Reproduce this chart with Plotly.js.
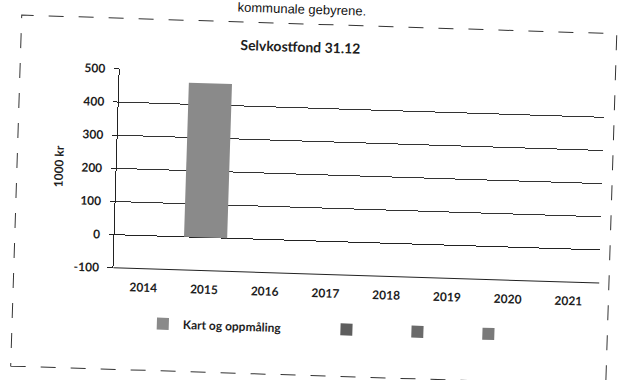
<!DOCTYPE html>
<html>
<head>
<meta charset="utf-8">
<script src="https://cdn.plot.ly/plotly-3.0.1.min.js"></script>
<style>
html,body{margin:0;padding:0;background:#fff;overflow:hidden;}
#wrap{width:623px;height:380px;transform:rotate(1.8deg);transform-origin:311.5px 190px;}
#chart{width:623px;height:380px;}
</style>
</head>
<body>
<div id="wrap"><div id="chart"></div></div>
<script>
const years = ['2014','2015','2016','2017','2018','2019','2020','2021'];
const kartOgOppmaling = [null, 465, null, null, null, null, null, null];
const serie2 = [null, null, null, null, null, null, null, null];
const serie3 = [null, null, null, null, null, null, null, null];
const serie4 = [null, null, null, null, null, null, null, null];
const seriesNames = ['Kart og oppmåling', ' ', ' ', ' '];
const yTickVals = [-100, 0, 100, 200, 300, 400, 500];
const yTickText = ['-100', '0', '100', '200', '300', '400', '500'];
const chartTitle = 'Selvkostfond 31.12';
const yTitle = '1000 kr';
const pageText = 'kommunale gebyrene.';

const font = 'Lato, "Open Sans", sans-serif';
const tf = {family:font, size:12, color:'#1e1e1e', weight:'bold'};
const traces = [
  {type:'bar', x:years, y:kartOgOppmaling, name:seriesNames[0], marker:{color:'#8a8a8a'}, legend:'legend'},
  {type:'bar', x:years, y:serie2, name:seriesNames[1], marker:{color:'#5e5e5e'}, legend:'legend2'},
  {type:'bar', x:years, y:serie3, name:seriesNames[2], marker:{color:'#6a6a6a'}, legend:'legend2'},
  {type:'bar', x:years, y:serie4, name:seriesNames[3], marker:{color:'#7a7a7a'}, legend:'legend2'}
];
const layout = {
  width:623, height:380,
  margin:{l:116, r:21, t:75, b:106},
  paper_bgcolor:'#fff', plot_bgcolor:'#fff',
  font:{family:font, color:'#222', size:12},
  barmode:'overlay', bargap:0.29,
  title:{text:'<b>'+chartTitle+'</b>', font:{family:font, size:14, color:'#1e1e1e'}, x:0.475, xanchor:'center', y:0.875, yanchor:'middle'},
  xaxis:{type:'category', showgrid:false, showline:false, ticks:'', tickfont:tf, ticklabelstandoff:10, fixedrange:true},
  yaxis:{range:[-100,500], tickmode:'array', tickvals:yTickVals, ticktext:yTickText, showgrid:true, gridcolor:'#333', gridwidth:1, zeroline:true, zerolinecolor:'#222', zerolinewidth:1,
         showline:true, linecolor:'#222', linewidth:1, ticks:'outside', ticklen:5, tickcolor:'#222', ticklabelstandoff:6,
         tickfont:tf,
         title:{text:'<b>'+yTitle+'</b>', font:{family:font, size:12, color:'#1e1e1e'}, standoff:10}},
  legend:{orientation:'h', x:0.064, xanchor:'left', y:-0.2, yanchor:'top', font:tf, bgcolor:'rgba(0,0,0,0)'},
  legend2:{orientation:'h', x:0.442, xanchor:'left', y:-0.2, yanchor:'top', entrywidth:26, entrywidthmode:'pixels', font:tf, bgcolor:'rgba(0,0,0,0)'},
  shapes:[
    {type:'line', xref:'paper', yref:'paper', x0:0, x1:1, y0:0, y1:0, line:{color:'#222', width:1}},
    {type:'rect', xref:'paper', yref:'paper', x0:-0.205, x1:1.02, y0:-0.51, y1:1.255, line:{color:'#333', width:1, dash:'longdash'}, fillcolor:'rgba(0,0,0,0)'}
  ],
  annotations:[
    {text:pageText, xref:'paper', yref:'paper', x:0.508, xanchor:'right', y:1.378, yanchor:'top', showarrow:false, font:{family:'Liberation Sans, Arial, sans-serif', size:13, color:'#111'}}
  ],
  showlegend:true
};
Plotly.newPlot('chart', traces, layout, {displayModeBar:false, staticPlot:true});
</script>
</body>
</html>
